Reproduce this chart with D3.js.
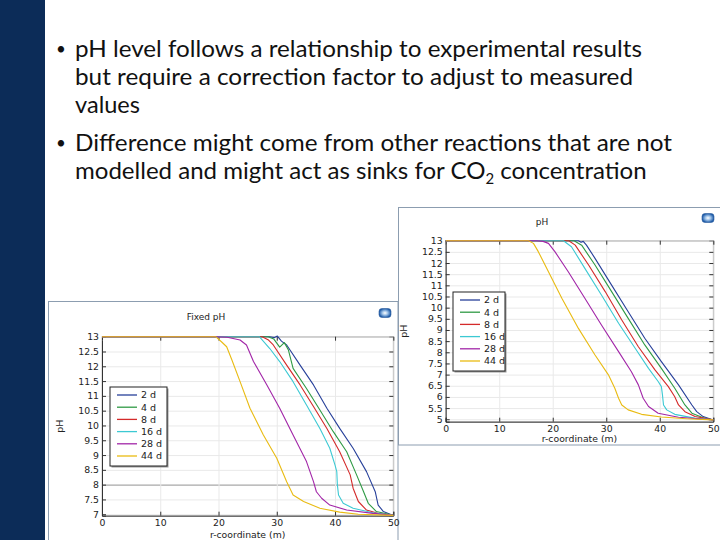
<!DOCTYPE html>
<html><head><meta charset="utf-8">
<script src="https://cdn.jsdelivr.net/npm/d3@7"></script>
<style>html,body{margin:0;padding:0;background:#fff;}svg{display:block;}</style>
</head><body>
<svg id="c" width="720" height="540"></svg>
<script>
// ---------- DATA ----------
const seriesNames = ["2 d", "4 d", "8 d", "16 d", "28 d", "44 d"];
const xTicks = [0, 10, 20, 30, 40, 50];
const leftYTicks = [7, 7.5, 8, 8.5, 9, 9.5, 10, 10.5, 11, 11.5, 12, 12.5, 13];
const rightYTicks = [5, 5.5, 6, 6.5, 7, 7.5, 8, 8.5, 9, 9.5, 10, 10.5, 11, 11.5, 12, 12.5, 13];
const leftTitle = "Fixed pH";
const rightTitle = "pH";
const xLabel = "r-coordinate (m)";
const yLabel = "pH";

// Fixed pH chart (left) — [r, pH]
const fixed2d = [[0,13],[28.8,13],[29.6,12.97],[30.1,13.02],[30.8,12.85],[31.7,12.72],[34,12.04],[36.3,11.37],[38.6,10.58],[40.8,9.9],[43.1,9.23],[45.4,8.44],[46.9,7.76],[47.4,7.31],[48.3,7.09],[50,6.96]];
const fixed4d = [[0,13],[28.5,13],[29.5,12.92],[30.5,12.65],[31.3,12.8],[32,12.55],[32.8,11.93],[35.1,11.25],[37.4,10.52],[39.7,9.79],[42,9.11],[43.7,8.33],[44.9,7.76],[45.7,7.37],[47.1,7.09],[50,6.96]];
const fixed8d = [[0,13],[27.5,13],[28.5,12.9],[29.4,12.72],[31.7,12.04],[34,11.37],[36.3,10.64],[38.6,9.9],[40.8,9.11],[42.6,8.33],[43.1,7.88],[44,7.43],[45.4,7.14],[47.5,7.02],[50,6.96]];
const fixed16d = [[0,13],[27,13],[28.8,12.6],[30.5,12.16],[32.8,11.48],[35.1,10.69],[37.4,9.9],[39.1,9.23],[40,8.66],[40.3,8.44],[40.4,7.99],[40.6,7.65],[41.4,7.37],[43.1,7.2],[46.5,7.05],[50,6.96]];
const fixed28d = [[0,13],[19.5,13],[21.5,12.98],[23.7,12.89],[24.8,12.72],[26,12.16],[28.3,11.37],[30.5,10.58],[32.8,9.68],[35.1,8.78],[36.3,8.1],[36.8,7.76],[37.7,7.54],[39.1,7.31],[42,7.14],[46.5,7.03],[50,6.96]];
const fixed44d = [[0,13],[19.5,13],[20.5,12.83],[21.4,12.66],[22.3,12.21],[23.7,11.48],[25.4,10.58],[27.7,9.68],[30,8.89],[31.7,8.1],[32.8,7.65],[34.6,7.43],[37.4,7.2],[40.8,7.07],[44,7.0],[50,6.96]];

// pH chart (right) — [r, pH]
const ph2d = [[0,13],[24.8,13],[25.3,12.93],[25.7,12.97],[26.3,12.8],[27.9,12.21],[31,11.01],[34.1,9.82],[37.2,8.63],[40.3,7.58],[43.5,6.54],[46,5.64],[46.9,5.34],[48.1,5.12],[50,4.97]];
const ph4d = [[0,13],[24,13],[25.4,12.8],[27.9,11.91],[31,10.72],[34.1,9.52],[37.2,8.33],[40.3,7.28],[42.8,6.39],[44.7,5.64],[46,5.27],[48,5.08],[50,4.97]];
const ph8d = [[0,13],[23,13],[24.2,12.8],[26.7,11.91],[29.8,10.72],[32.9,9.45],[36,8.25],[39.1,7.21],[41.6,6.46],[42.8,6.01],[43.5,5.64],[44.7,5.34],[46.6,5.12],[50,4.97]];
const ph16d = [[0,13],[22,13],[23.5,12.73],[26,11.76],[29.1,10.57],[32.3,9.3],[35.4,8.18],[37.9,7.28],[39.7,6.69],[40.3,6.46],[40.5,6.09],[40.7,5.64],[41.3,5.42],[42.8,5.22],[46.5,5.05],[50,4.97]];
const ph28d = [[0,13],[17,13],[18.2,12.97],[19.2,12.88],[20.4,12.51],[22.9,11.61],[26,10.42],[29.1,9.22],[32.3,8.03],[34.7,7.13],[36,6.54],[36.9,5.94],[37.9,5.57],[39.7,5.27],[43.5,5.09],[50,4.97]];
const ph44d = [[0,13],[15.5,13],[16.4,12.88],[17.3,12.51],[19.2,11.61],[21.7,10.42],[24.8,9.07],[27.9,7.88],[30.4,6.99],[31.6,6.39],[32.3,5.94],[32.9,5.64],[34.1,5.42],[36.6,5.22],[40.3,5.1],[45,5.02],[50,4.97]];

const bullet1 = ["pH level follows a relationship to experimental results", "but require a correction factor to adjust to measured", "values"];
const bullet2 = ["Difference might come from other reactions that are not", "modelled and might act as sinks for CO"];
const bullet2tail = ["2", " concentration"];

// ---------- STYLE ----------
const colors = ["#27409a", "#2f9a45", "#d42a2a", "#3cc9d3", "#a226a8", "#e9bb12"];
const svg = d3.select("#c");
const tickFont = "DejaVu Sans, sans-serif";

// sidebar
svg.append("rect").attr("x", 0).attr("y", 0).attr("width", 45).attr("height", 540).attr("fill", "#0c2c58");

// bullet text
const txtFont = "Lato, 'Open Sans', sans-serif";
const txt = svg.append("g").attr("font-family", txtFont).attr("fill", "#111");
const fs = 23.5;
const lines = [
  {t: bullet1[0], y: 57, b: true, w: 567},
  {t: bullet1[1], y: 85, b: false, w: 558},
  {t: bullet1[2], y: 113, b: false, w: 65},
  {t: bullet2[0], y: 151, b: true, w: 597}
];
lines.forEach(l => {
  if (l.b) txt.append("text").attr("x", 56).attr("y", l.y - 2).attr("font-size", 17).text("•");
  txt.append("text").attr("x", 75).attr("y", l.y).attr("font-size", fs)
    .attr("textLength", l.w).attr("lengthAdjust", "spacingAndGlyphs").text(l.t);
});
const last = txt.append("text").attr("x", 75).attr("y", 179).attr("font-size", fs);
last.append("tspan").text(bullet2[1]);
last.append("tspan").attr("font-size", fs * 0.62).attr("dy", 5).text(bullet2tail[0]);
last.append("tspan").attr("dy", -5).text(bullet2tail[1]);
{
  const w = last.node().getComputedTextLength();
  const target = 572;
  if (w > 0) last.attr("transform", `translate(75,0) scale(${target / w},1) translate(-75,0)`);
}

function icon(g, x, y) {
  const grad = "ig" + Math.round(x);
  const defs = svg.append("defs");
  const lg = defs.append("radialGradient").attr("id", grad);
  lg.append("stop").attr("offset", "0%").attr("stop-color", "#ffffff");
  lg.append("stop").attr("offset", "45%").attr("stop-color", "#9fc3e8");
  lg.append("stop").attr("offset", "100%").attr("stop-color", "#1d5aa8");
  g.append("rect").attr("x", x - 6).attr("y", y - 4.5).attr("width", 12).attr("height", 9).attr("rx", 3)
    .attr("fill", `url(#${grad})`).attr("stroke", "#2a5c9c").attr("stroke-width", 0.6);
}

function chart(opt) {
  const g = svg.append("g");
  g.append("rect").attr("x", opt.panel[0]).attr("y", opt.panel[1]).attr("width", opt.panel[2]).attr("height", opt.panel[3])
    .attr("fill", "#fff").attr("stroke", "#8c9db0").attr("stroke-width", 1);
  const x = d3.scaleLinear().domain([0, 50]).range(opt.xr);
  const y = d3.scaleLinear().domain(opt.yd).range(opt.yr);
  const [x0, x1] = opt.xr, [yb, yt] = opt.yr;
  g.append("g").selectAll("line").data(opt.yTicks).join("line")
    .attr("x1", x0).attr("x2", x1).attr("y1", d => y(d) + 0.5).attr("y2", d => y(d) + 0.5)
    .attr("stroke", d => (opt.dark && d === opt.dark) ? "#a8a8a8" : "#e9e9e9").attr("stroke-width", d => (opt.dark && d === opt.dark) ? 1.2 : 1);
  g.append("g").selectAll("line").data(xTicks.slice(1, -1)).join("line")
    .attr("x1", d => x(d) + 0.5).attr("x2", d => x(d) + 0.5).attr("y1", yt).attr("y2", yb)
    .attr("stroke", "#e9e9e9");
  g.append("rect").attr("x", x0).attr("y", yt).attr("width", x1 - x0).attr("height", yb - yt)
    .attr("fill", "none").attr("stroke", "#c8c8c8");
  const yAxis = d3.axisLeft(y).tickValues(opt.yTicks).tickSize(-4).tickPadding(3).tickFormat(d3.format("~g"));
  const ya = g.append("g").attr("transform", `translate(${x0},0)`).call(yAxis);
  const yAxisR = d3.axisRight(y).tickValues(opt.yTicks).tickSize(-4).tickFormat("");
  const yr = g.append("g").attr("transform", `translate(${x1},0)`).call(yAxisR);
  const xAxis = d3.axisBottom(x).tickValues(xTicks).tickSize(-4).tickPadding(3.5).tickFormat(d3.format("d"));
  const xa = g.append("g").attr("transform", `translate(0,${yb})`).call(xAxis);
  const xAxisT = d3.axisTop(x).tickValues(xTicks).tickSize(-4).tickFormat("");
  const xt = g.append("g").attr("transform", `translate(0,${yt})`).call(xAxisT);
  [ya, xa].forEach(a => { a.select(".domain").attr("stroke", "#333"); });
  [yr, xt].forEach(a => { a.select(".domain").attr("stroke", "#c8c8c8"); });
  [ya, yr, xa, xt].forEach(a => {
    a.selectAll(".tick line").attr("stroke", "#333");
    a.selectAll("text").attr("font-family", tickFont).attr("font-size", 9.3).attr("fill", "#222");
  });
  const line = d3.line().x(d => x(d[0])).y(d => y(d[1]));
  opt.series.forEach((s, i) => {
    g.append("path").datum(s).attr("d", line).attr("fill", "none")
      .attr("stroke", colors[i]).attr("stroke-width", 1.1).attr("stroke-linejoin", "round");
  });
  g.append("text").attr("x", opt.title[1]).attr("y", opt.title[2]).attr("text-anchor", "middle")
    .attr("font-family", tickFont).attr("font-size", 9).attr("fill", "#222").text(opt.title[0]);
  icon(g, opt.icon[0], opt.icon[1]);
  g.append("text").attr("x", (x0 + x1) / 2).attr("y", opt.xlabY).attr("text-anchor", "middle")
    .attr("font-family", tickFont).attr("font-size", 9.3).attr("fill", "#222").text(xLabel);
  g.append("text").attr("transform", `translate(${opt.ylabX},${(yt + yb) / 2}) rotate(-90)`).attr("text-anchor", "middle")
    .attr("font-family", tickFont).attr("font-size", 9.5).attr("fill", "#222").text(yLabel);
  const L = opt.legend;
  g.append("rect").attr("x", L.x + 1.5).attr("y", L.y + 1.5).attr("width", L.w).attr("height", L.h).attr("fill", "#999");
  g.append("rect").attr("x", L.x).attr("y", L.y).attr("width", L.w).attr("height", L.h)
    .attr("fill", "#fff").attr("stroke", "#222").attr("stroke-width", 1);
  seriesNames.forEach((n, i) => {
    const yy = L.y + 8 + i * 12.2;
    g.append("line").attr("x1", L.x + 7).attr("x2", L.x + 27).attr("y1", yy).attr("y2", yy)
      .attr("stroke", colors[i]).attr("stroke-width", 1.3);
    g.append("text").attr("x", L.x + 31).attr("y", yy + 3.4).attr("font-family", tickFont)
      .attr("font-size", 9.5).attr("fill", "#222").text(n);
  });
}

chart({
  panel: [48.5, 301.5, 349.5, 245],
  xr: [102, 393.3], yr: [515.7, 336.7], yd: [6.95, 13],
  yTicks: leftYTicks, dark: 8,
  series: [fixed2d, fixed4d, fixed8d, fixed16d, fixed28d, fixed44d],
  title: [leftTitle, 206, 320], icon: [385, 313],
  xlabY: 538, ylabX: 63,
  legend: {x: 110, y: 387, w: 57, h: 79}
});
chart({
  panel: [398.5, 207.5, 330, 237.5],
  xr: [445.7, 713.3], yr: [421.7, 240.7], yd: [4.89, 13],
  yTicks: rightYTicks, dark: null,
  series: [ph2d, ph4d, ph8d, ph16d, ph28d, ph44d],
  title: [rightTitle, 542, 225], icon: [708, 218],
  xlabY: 441.5, ylabX: 407,
  legend: {x: 453, y: 292, w: 52, h: 79}
});
</script>
</body></html>
